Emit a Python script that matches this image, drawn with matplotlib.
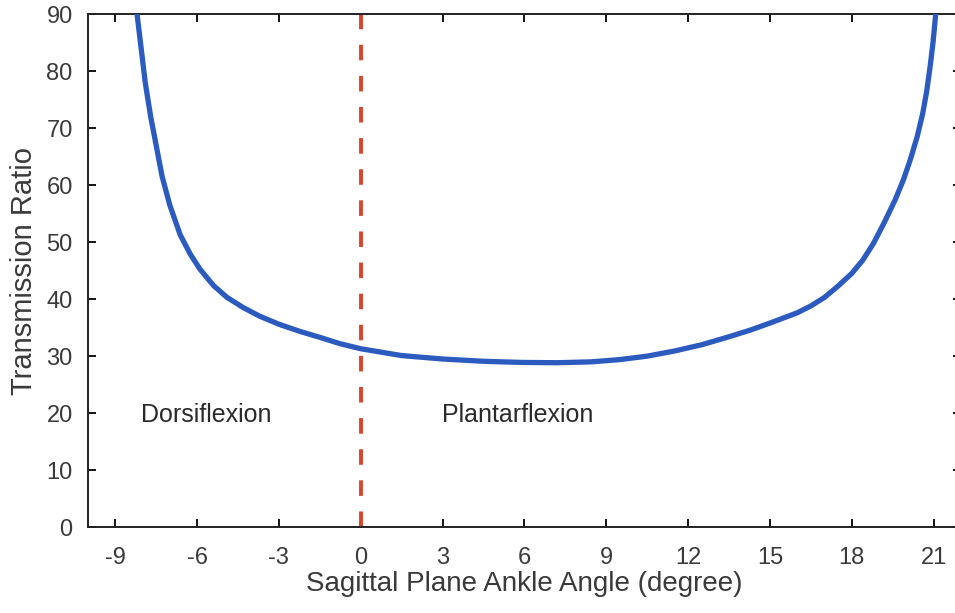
import matplotlib
matplotlib.use("Agg")
import matplotlib.pyplot as plt

# values
angle = [-8.2, -8.05, -7.9, -7.7, -7.5, -7.28, -7.0, -6.62, -6.25, -5.9, -5.4,
         -4.9, -4.3, -3.7, -3.0, -2.2, -1.5, -0.77, 0.0, 1.5, 3.0, 4.5, 5.9,
         7.2, 8.45, 9.5, 10.5, 11.5, 12.5, 13.5, 14.3, 15.0, 16.0, 16.5, 17.0,
         17.5, 18.0, 18.4, 18.8, 19.2, 19.6, 19.9, 20.15, 20.4, 20.6, 20.75,
         20.88, 20.98, 21.08]
ratio = [90.0, 84.0, 78.0, 72.0, 67.0, 61.5, 56.5, 51.3, 47.9, 45.3, 42.4,
         40.3, 38.5, 37.0, 35.6, 34.3, 33.3, 32.2, 31.3, 30.1, 29.5, 29.1, 28.9,
         28.85, 29.0, 29.4, 30.0, 30.9, 32.0, 33.4, 34.6, 35.8, 37.6, 38.8, 40.3,
         42.3, 44.5, 46.8, 49.8, 53.5, 57.5, 61.0, 64.5, 68.5, 72.5, 76.5,
         81.0, 85.0, 90.0]
xticks = [-9, -6, -3, 0, 3, 6, 9, 12, 15, 18, 21]
yticks = [0, 10, 20, 30, 40, 50, 60, 70, 80, 90]
boundary = 0

plt.rcParams['font.family'] = ['Liberation Sans', 'DejaVu Sans']
plt.rcParams['axes.unicode_minus'] = False

fig = plt.figure(figsize=(9.55, 6.13), dpi=100)
ax = fig.add_axes([0.0921, 0.140, 0.914, 0.837])

ax.plot(angle, ratio, color='#2b5bbf', lw=3.8, solid_capstyle='round', zorder=3)
ax.plot([boundary, boundary], [0, 90], color='#d8452a', lw=2.8,
        dashes=(4.0, 4.0), zorder=2)

ax.text(-8.05, 19.7, 'Dorsiflexion', fontsize=18, color='#2a2a2a', va='center')
ax.text(2.97, 19.7, 'Plantarflexion', fontsize=18, color='#2a2a2a', va='center')

ax.set_xlim(-10, 22)
ax.set_ylim(0, 90)
ax.set_xticks(xticks)
ax.set_yticks(yticks)
ax.tick_params(direction='in', length=6, width=1.3, top=True, right=True,
               labelsize=17, labelcolor='#3a3a3a')
ax.tick_params(axis='x', pad=14)
ax.tick_params(axis='y', pad=11)
for s in ax.spines.values():
    s.set_linewidth(1.4)
    s.set_color('#222222')

ax.set_xlabel('Sagittal Plane Ankle Angle (degree)', fontsize=20, color='#3a3a3a', labelpad=2)
ax.set_ylabel('Transmission Ratio', fontsize=21, color='#3a3a3a', labelpad=6)

fig.savefig('out.png', dpi=100)
